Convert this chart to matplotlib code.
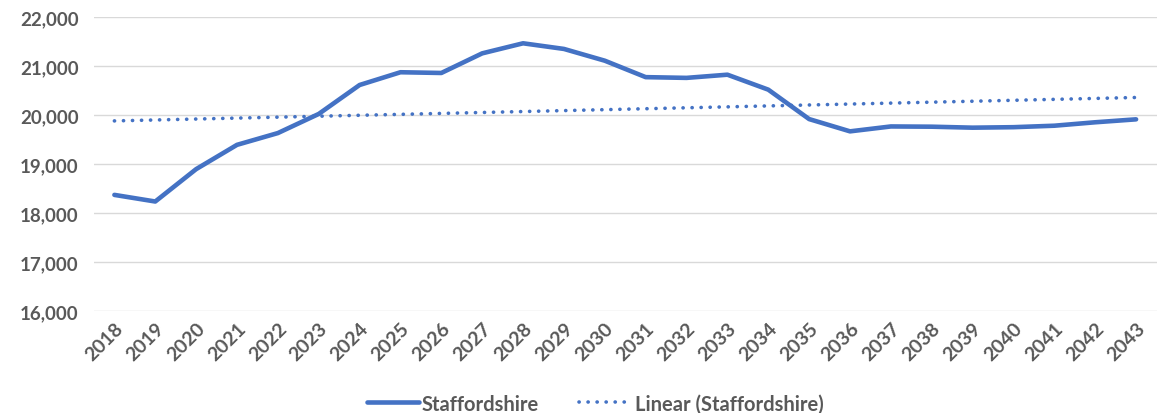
import numpy as np
import matplotlib
matplotlib.use("Agg")
import matplotlib.pyplot as plt
from matplotlib.ticker import FuncFormatter

years = list(range(2018, 2044))
staffordshire = [18370, 18235, 18895, 19390, 19630, 20020, 20610, 20870, 20855, 21255,
                 21460, 21345, 21105, 20770, 20755, 20820, 20515, 19915, 19665, 19765,
                 19760, 19740, 19750, 19780, 19850, 19910]

blue = "#4472C4"
grey = "#595959"

plt.rcParams["font.family"] = ["Lato", "DejaVu Sans"]
plt.rcParams["font.weight"] = "bold"

fig = plt.figure(figsize=(11.6, 4.14), dpi=100)
ax = fig.add_axes([0.081, 0.246, 0.916, 0.711])

x = np.arange(len(years))
ax.plot(x, staffordshire, color=blue, lw=3.3, solid_joinstyle="round",
        solid_capstyle="round", label="Staffordshire", zorder=3)

# linear trendline, as excel does it
k, b = np.polyfit(x, staffordshire, 1)
ax.plot(x, k * x + b, color=blue, lw=2.6, linestyle=(0, (0.05, 2.45)),
        dash_capstyle="round", label="Linear (Staffordshire)", zorder=2)

ax.set_xlim(-0.5, len(years) - 0.5)
ax.set_ylim(16000, 22000)
ax.set_yticks(range(16000, 22001, 1000))
ax.yaxis.set_major_formatter(FuncFormatter(lambda v, p: f"{int(v):,}"))
ax.set_xticks(x)
ax.set_xticklabels([str(y) for y in years], rotation=45, ha="right",
                   rotation_mode="anchor")

ax.grid(axis="y", color="#D9D9D9", lw=1)
ax.set_axisbelow(True)
for s in ax.spines.values():
    s.set_visible(False)
ax.tick_params(axis="both", length=0, colors=grey)
ax.tick_params(axis="y", pad=11, labelsize=13.5)
ax.tick_params(axis="x", pad=6, labelsize=14)

leg = fig.legend(loc="lower center", bbox_to_anchor=(0.513, -0.045), ncol=2,
                 frameon=False, fontsize=14.5, handlelength=2.6, handletextpad=0.15,
                 columnspacing=2.0)
for t in leg.get_texts():
    t.set_color(grey)

fig.savefig("out.png", dpi=100)
